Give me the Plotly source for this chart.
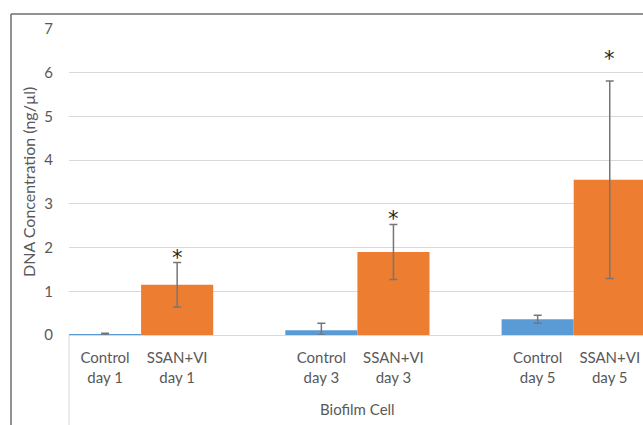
import plotly.graph_objects as go

# ---- data ----
days = ["day 1", "day 3", "day 5"]
control_vals = [0.02, 0.11, 0.36]
control_err = [0.02, 0.16, 0.09]
ssan_vals = [1.15, 1.90, 3.55]
ssan_err = [0.51, 0.63, 2.26]
group_label = "Biofilm Cell"
y_ticks = [0, 1, 2, 3, 4, 5, 6, 7]

BLUE = "#5B9BD5"
ORANGE = "#ED7D31"
GRID = "#D9D9D9"
TXT = "#595959"
FONT = "Lato"

# positions: each day occupies 3 slots (control, ssan, blank)
ctrl_x = [i * 3 for i in range(len(days))]
ssan_x = [i * 3 + 1 for i in range(len(days))]

fig = go.Figure()
fig.add_trace(go.Bar(
    x=ctrl_x, y=control_vals, width=1, marker_color=BLUE, marker_line_width=0,
    error_y=dict(type="data", array=control_err,
                 arrayminus=[min(e, v) for e, v in zip(control_err, control_vals)],
                 color="#767676", thickness=1.5, width=4),
    name="Control", showlegend=False, hoverinfo="skip"))
fig.add_trace(go.Bar(
    x=ssan_x, y=ssan_vals, width=1, marker_color=ORANGE, marker_line_width=0,
    error_y=dict(type="data", array=ssan_err, color="#767676", thickness=1.5, width=4),
    name="SSAN+VI", showlegend=False, hoverinfo="skip"))

tickvals = []
ticktext = []
for i, d in enumerate(days):
    tickvals += [ctrl_x[i], ssan_x[i]]
    ticktext += [f"Control<br>{d}", f"SSAN+VI<br>{d}"]

slot_px = 72.1
plot_w = 643 - 69
x_hi = -0.5 + plot_w / slot_px

fig.update_layout(
    width=643, height=425,
    margin=dict(l=69, r=0, t=29, b=90),
    plot_bgcolor="white", paper_bgcolor="white",
    barmode="overlay",
    font=dict(family=FONT, size=14, color=TXT),
    xaxis=dict(range=[-0.5, x_hi], tickvals=tickvals, ticktext=ticktext,
               showgrid=False, zeroline=False, showline=True, linecolor=GRID,
               linewidth=1, ticks="", tickfont=dict(size=15, color=TXT),
               ticklabelstandoff=9),
    yaxis=dict(range=[0, 7], tickvals=y_ticks, showgrid=True, gridcolor=GRID,
               gridwidth=1, zeroline=False, showline=False, ticks="",
               tickfont=dict(size=15, color=TXT), ticklabelstandoff=15),
)

# significance stars
star_shift = [4, 5, 22]
for x, v, e, s in zip(ssan_x, ssan_vals, ssan_err, star_shift):
    fig.add_annotation(x=x, y=v + e, xref="x", yref="y", text="*",
                       showarrow=False, yanchor="middle", yshift=s,
                       font=dict(family="DejaVu Sans", size=21, color="#262626"))

# group label
fig.add_annotation(x=(ctrl_x[0] + ssan_x[-1]) / 2, y=-0.242, xref="x", yref="paper",
                   text=group_label, showarrow=False, yanchor="middle",
                   font=dict(family=FONT, size=15, color=TXT))

# y-axis title
fig.add_annotation(x=(28 - 69) / plot_w, y=0.5, xref="paper", yref="paper",
                   text="DNA Concentration (ng/µl)", textangle=-90, showarrow=False,
                   xanchor="center", yanchor="middle",
                   font=dict(family=FONT, size=16, color=TXT))

# category divider line and chart border
fig.add_shape(type="line", xref="paper", yref="paper", x0=0, x1=0, y0=0, y1=-0.3,
              line=dict(color=GRID, width=1))
fig.add_shape(type="line", xref="paper", yref="paper",
              x0=(11 - 69) / plot_w, x1=(11 - 69) / plot_w, y0=(335 - 14) / 306, y1=-0.3,
              line=dict(color="#6E6E6E", width=1.5))
fig.add_shape(type="line", xref="paper", yref="paper",
              x0=(11 - 69) / plot_w, x1=1.01, y0=(335 - 14) / 306, y1=(335 - 14) / 306,
              line=dict(color="#6E6E6E", width=1.5))

fig.write_html("out.html", config={"displayModeBar": False},
               post_script="document.body.style.margin='0';document.body.style.overflow='hidden';")
